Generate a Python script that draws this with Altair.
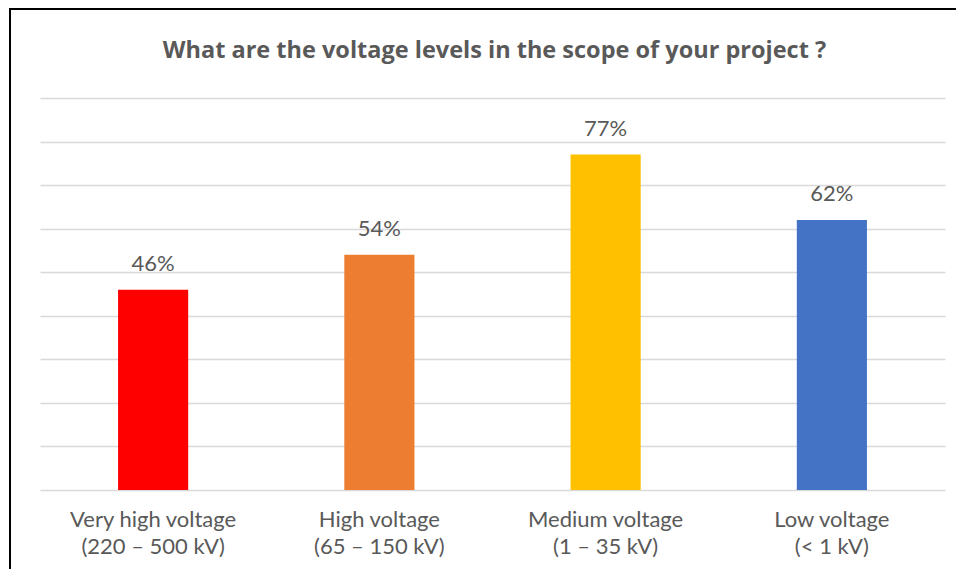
import altair as alt
import pandas as pd

title_text = "What are the voltage levels in the scope of your project ?"
categories = ["Very high voltage\n(220 – 500 kV)", "High voltage\n(65 – 150 kV)",
              "Medium voltage\n(1 – 35 kV)", "Low voltage\n(< 1 kV)"]
values = [0.46, 0.54, 0.77, 0.62]
labels = ["46%", "54%", "77%", "62%"]
colors = ["#FF0000", "#ED7D31", "#FFC000", "#4472C4"]
y_ticks = [0, 0.1, 0.2, 0.3, 0.4, 0.5, 0.6, 0.7, 0.8, 0.9]

df = pd.DataFrame({"cat": categories, "val": values, "lab": labels, "col": colors})

W, H = 905, 392
FONT = "Lato"

x = alt.X("cat:N", sort=categories, title=None,
          scale=alt.Scale(paddingInner=0.69, paddingOuter=0.345),
          axis=alt.Axis(labelExpr="split(datum.label, '\\n')", labelAngle=0,
                        labelFontSize=22, labelColor="#595959", labelFont=FONT,
                        labelLineHeight=27, labelPadding=19, ticks=False,
                        domain=False, grid=False))
y = alt.Y("val:Q", title=None,
          scale=alt.Scale(domain=[0, 0.9], nice=False),
          axis=alt.Axis(values=y_ticks, labels=False, ticks=False, domain=False,
                        grid=True, gridColor="#D9D9D9", gridWidth=1.5))

bars = alt.Chart(df).mark_bar().encode(
    x=x, y=y, color=alt.Color("col:N", scale=None)
)
text = alt.Chart(df).mark_text(dy=-14, fontSize=22, color="#595959", font=FONT,
                               baseline="bottom").encode(
    x=alt.X("cat:N", sort=categories), y="val:Q", text="lab:N"
)
title = alt.Chart(pd.DataFrame({"t": [title_text]})).mark_text(
    fontSize=23.5, font="Open Sans", fontWeight="bold", color="#595959",
    align="center", baseline="middle"
).encode(x=alt.value(W / 2 + 2), y=alt.value(-47), text="t:N")
frame = alt.Chart(df).mark_rect(fill=None, stroke="black", strokeWidth=2).encode(
    x=alt.value(-30), x2=alt.value(W + 40), y=alt.value(-89), y2=alt.value(H + 120)
)

chart = alt.layer(bars, text, title, frame).properties(
    width=W, height=H,
    autosize=alt.AutoSizeParams(type="none"),
    padding={"left": 32, "top": 90, "right": 11, "bottom": 79},
).configure(background="white", view=alt.ViewConfig(strokeWidth=0, stroke="transparent"))

chart.save("out.html", embed_options={"renderer": "svg", "actions": False})
